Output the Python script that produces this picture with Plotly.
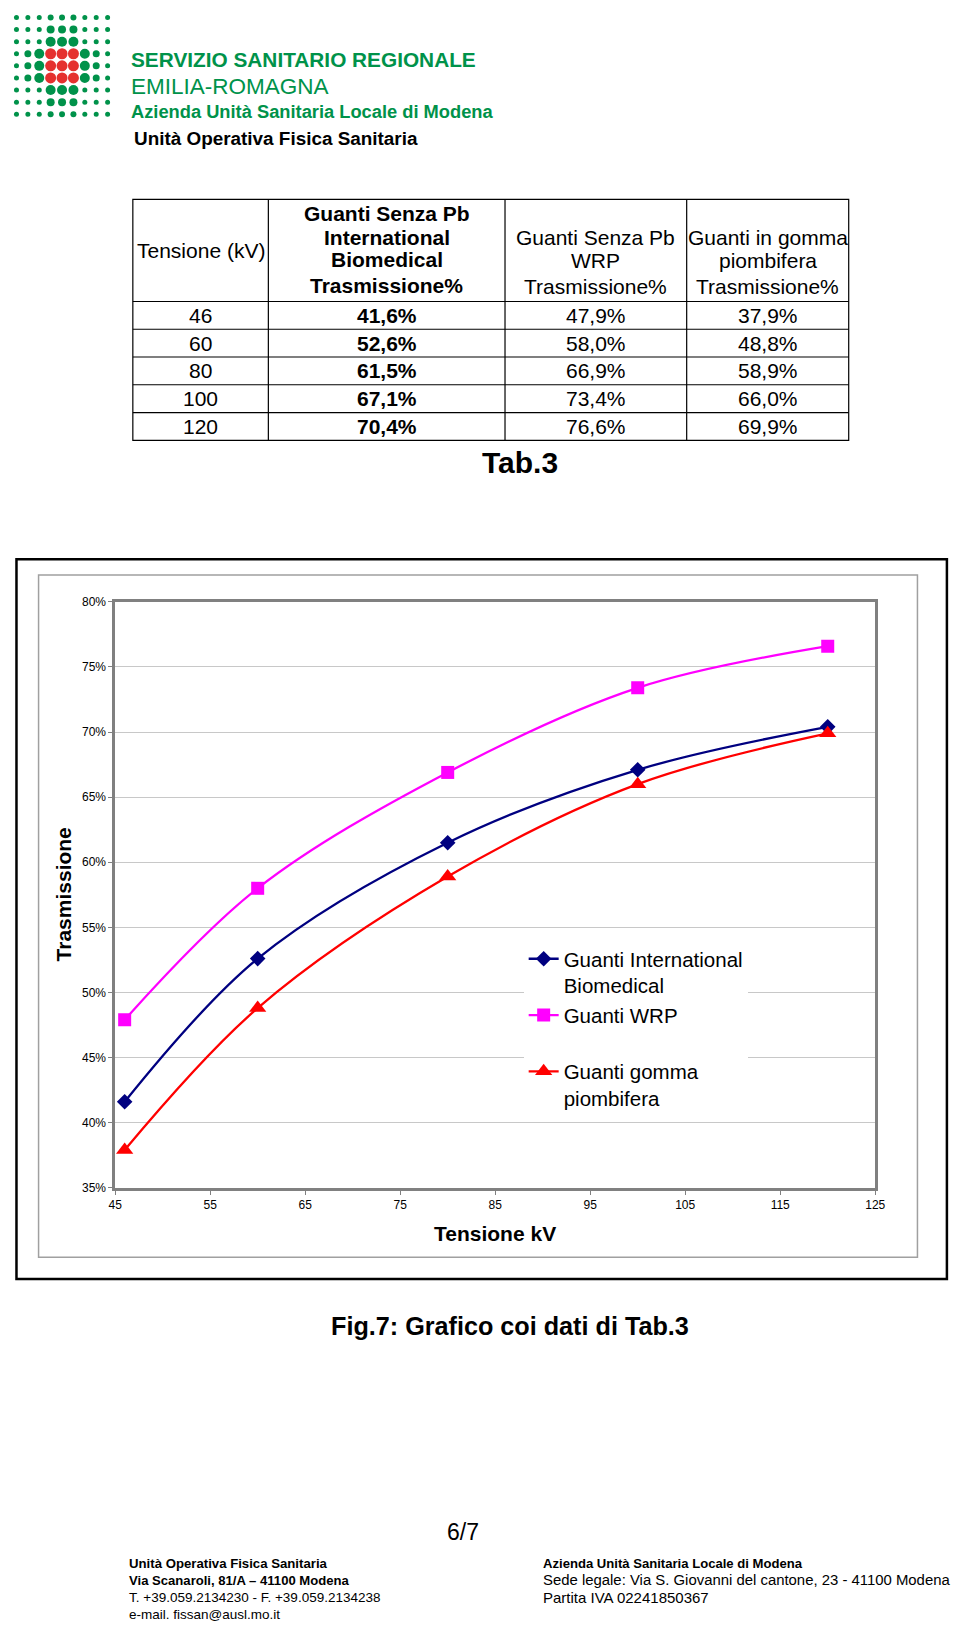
import plotly.graph_objects as go

# page is 960x1633; the html body keeps its default 8px margin, so the figure is 944x1617
PAGE_OFF = 8
W, H = 960 - 2 * PAGE_OFF, 1633 - 2 * PAGE_OFF

# ---------------- data ----------------
kv = [46, 60, 80, 100, 120]
ib = [41.6, 52.6, 61.5, 67.1, 70.4]
wrp = [47.9, 58.0, 66.9, 73.4, 76.6]
gomma = [37.9, 48.8, 58.9, 66.0, 69.9]

series_names = ["Guanti International<br>Biomedical", "Guanti WRP<br>&nbsp;", "Guanti gomma<br>piombifera"]
series_colors = ["#000080", "#FF00FF", "#FF0000"]
series_symbols = ["diamond", "square", "triangle-up"]
series_sizes = [12, 13, 15]

header_cells = [
    ["Tensione (kV)"],
    ["Guanti Senza Pb", "International", "Biomedical", "Trasmissione%"],
    ["Guanti Senza Pb", "WRP", "Trasmissione%"],
    ["Guanti in gomma", "piombifera", "Trasmissione%"],
]
x_ticks = [45, 55, 65, 75, 85, 95, 105, 115, 125]
y_ticks = [35, 40, 45, 50, 55, 60, 65, 70, 75, 80]
y_ticktext = [f"{v}%" for v in y_ticks]

FONT = "Liberation Sans, Arial, sans-serif"
GREEN = "#00924A"
RED = "#E5312F"


def X(p):
    return (p - PAGE_OFF) / W


def Y(p):
    return 1 - (p - PAGE_OFF) / H


fig = go.Figure()

for name, vals, col, sym, sz in zip(series_names, [ib, wrp, gomma], series_colors, series_symbols, series_sizes):
    fig.add_trace(go.Scatter(
        x=kv, y=vals, name=name, mode="lines+markers",
        line=dict(color=col, width=2.3, shape="spline", smoothing=1.0),
        marker=dict(symbol=sym, size=sz, color=col),
    ))

annotations = []
shapes = []


def text(x, y, s, size, bold=False, anchor="left", color="black", angle=0):
    if bold:
        s = "<b>" + s + "</b>"
    annotations.append(dict(
        x=X(x), y=Y(y), xref="paper", yref="paper", text=s, showarrow=False,
        xanchor=anchor, yanchor="middle", textangle=angle,
        font=dict(family=FONT, size=size, color=color),
    ))


def line(x0, y0, x1, y1, color="black", width=1):
    shapes.append(dict(type="line", xref="paper", yref="paper",
                       x0=X(x0), y0=Y(y0), x1=X(x1), y1=Y(y1),
                       line=dict(color=color, width=width)))


def rect(x0, y0, x1, y1, color="black", width=1):
    shapes.append(dict(type="rect", xref="paper", yref="paper",
                       x0=X(x0), y0=Y(y0), x1=X(x1), y1=Y(y1),
                       line=dict(color=color, width=width), fillcolor="rgba(0,0,0,0)"))


# ---------------- logo ----------------
s, m, L, R = 5, 7, 10, 11
logo_rows = [
    [s, s, s, 6, 6, 6, s, s, s],
    [s, s, s, 8, 8, 8, s, s, s],
    [s, s, s, L, L, L, s, s, s],
    [s, m, L, R, R, R, L, m, s],
    [s, m, L, R, R, R, L, m, s],
    [s, m, L, R, R, R, L, m, s],
    [s, s, s, L, L, L, s, s, s],
    [s, s, s, 8, 8, 8, s, s, s],
    [s, s, s, 6, 6, 6, s, s, s],
]
for ri, row in enumerate(logo_rows):
    for ci, d in enumerate(row):
        cx = 9.5 + ci * 11.6
        cy = 10.5 + ri * 12.2
        red = (3 <= ri <= 5) and (3 <= ci <= 5)
        shapes.append(dict(type="circle", xref="paper", yref="paper",
                           xsizemode="pixel", ysizemode="pixel",
                           xanchor=X(cx), yanchor=Y(cy),
                           x0=-d / 2, x1=d / 2, y0=-d / 2, y1=d / 2,
                           fillcolor=RED if red else GREEN, line=dict(width=0)))

text(124, 53, "SERVIZIO SANITARIO REGIONALE", 20.8, bold=True, color=GREEN)
text(124, 80, "EMILIA-ROMAGNA", 22.5, color=GREEN)
text(124, 105, "Azienda Unità Sanitaria Locale di Modena", 18.3, bold=True, color=GREEN)
text(127, 133, "Unità Operativa Fisica Sanitaria", 18.9, bold=True)

# ---------------- table ----------------
col_edges = [128, 266, 507, 692, 857]
row_edges = [194, 297, 325, 353, 381, 409, 437]
rect(col_edges[0], row_edges[0], col_edges[-1], row_edges[-1], width=1.2)
for cx in col_edges[1:-1]:
    line(cx, row_edges[0], cx, row_edges[-1], width=1.2)
for ry in row_edges[1:-1]:
    line(col_edges[0], ry, col_edges[-1], ry, width=1.2)

col_centers = [(col_edges[i] + col_edges[i + 1]) / 2 for i in range(4)]
header_y = [[246], [208, 232, 255, 281], [232, 256, 282], [232, 256, 282]]
for ci, lines_ in enumerate(header_cells):
    for ln, yy in zip(lines_, header_y[ci]):
        text(col_centers[ci], yy, ln, 21, bold=(ci == 1), anchor="center")


def pct(v):
    return f"{v:.1f}".replace(".", ",") + "%"


for ri in range(len(kv)):
    yy = (row_edges[ri + 1] + row_edges[ri + 2]) / 2
    text(col_centers[0], yy, str(kv[ri]), 21, anchor="center")
    text(col_centers[1], yy, pct(ib[ri]), 21, bold=True, anchor="center")
    text(col_centers[2], yy, pct(wrp[ri]), 21, anchor="center")
    text(col_centers[3], yy, pct(gomma[ri]), 21, anchor="center")

text(522, 459, "Tab.3", 30, bold=True, anchor="center")

# ---------------- chart frames ----------------
rect(9.5, 557, 957, 1283, color="black", width=2.5)
rect(32, 573, 927, 1261, color="#a0a0a0", width=1.5)

text(57, 895, "Trasmissione", 21, bold=True, anchor="center", angle=-90)
text(497, 1237, "Tensione kV", 21, bold=True, anchor="center")

text(512, 1330, "Fig.7: Grafico coi dati di Tab.3", 25.2, bold=True, anchor="center")

# ---------------- footer ----------------
text(464, 1538, "6/7", 23, anchor="center")
footer_left = [("Unità Operativa Fisica Sanitaria", True, 13.2), ("Via Scanaroli, 81/A – 41100 Modena", True, 13.1),
               ("T. +39.059.2134230 - F. +39.059.2134238", False, 13.5), ("e-mail. fissan@ausl.mo.it", False, 13.5)]
footer_right = [("Azienda Unità Sanitaria Locale di Modena", True, 13.1),
                ("Sede legale: Via S. Giovanni del cantone, 23 - 41100 Modena", False, 14.9),
                ("Partita IVA 02241850367", False, 15)]
for i, (t, b, fs) in enumerate(footer_left):
    text(122, 1570 + i * 17, t, fs, bold=b)
for i, (t, b, fs) in enumerate(footer_right):
    text(544, 1570 + i * 17, t, fs, bold=b)

fig.update_layout(
    width=W, height=H, margin=dict(l=0, r=0, t=0, b=0),
    paper_bgcolor="white", plot_bgcolor="white",
    font=dict(family=FONT, color="black"),
    showlegend=True,
    legend=dict(x=X(526), y=Y(940), xanchor="left", yanchor="top",
                bgcolor="white", borderwidth=0, valign="top",
                font=dict(family=FONT, size=20.5, color="black"),
                tracegroupgap=0),
    xaxis=dict(domain=[X(110), X(884)], range=[45, 125], tickvals=x_ticks,
               showgrid=False, zeroline=False, showline=True, mirror=True,
               linecolor="#808080", linewidth=2.5, ticks="outside", ticklen=4,
               tickcolor="#808080", tickfont=dict(size=12, family=FONT, color="black")),
    yaxis=dict(domain=[Y(1191), Y(600)], range=[35, 80], tickvals=y_ticks, ticktext=y_ticktext,
               showgrid=True, gridcolor="#c8c8c8", gridwidth=1,
               zeroline=False, showline=True, mirror=True,
               linecolor="#808080", linewidth=2.5, ticks="outside", ticklen=4,
               tickcolor="#808080", tickfont=dict(size=12, family=FONT, color="black")),
    annotations=annotations,
    shapes=shapes,
)

fig.write_html("out.html", config={"displayModeBar": False})
